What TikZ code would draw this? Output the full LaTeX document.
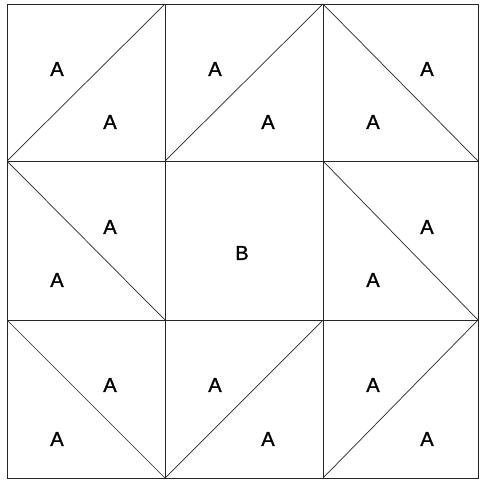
\documentclass[tikz,border=0pt]{standalone}
\usepackage{fontspec}
\setmainfont{Liberation Sans}
\newfontfamily\lblfont{Liberation Sans}[FakeBold=1.3]
\usepackage{tikz}
\usetikzlibrary{positioning}

\tikzset{
  lbl/.style={font=\lblfont\fontsize{20}{20}\selectfont, inner sep=0pt},
  gridline/.style={line width=0.9pt, black!85},
  diag/.style={line width=0.7pt, black!85}
}

\begin{document}
\begin{tikzpicture}[x=1pt,y=-1pt]
\useasboundingbox (0,0) rectangle (479,481);
% corners of the 3x3 blocks
\coordinate (p00) at (7,4);   \coordinate (p10) at (165,4);   \coordinate (p20) at (323,4);   \coordinate (p30) at (478,4);
\coordinate (p01) at (7,161); \coordinate (p11) at (165,161); \coordinate (p21) at (323,161); \coordinate (p31) at (478,161);
\coordinate (p02) at (7,320); \coordinate (p12) at (165,320); \coordinate (p22) at (323,320); \coordinate (p32) at (478,320);
\coordinate (p03) at (7,478); \coordinate (p13) at (165,478); \coordinate (p23) at (323,478); \coordinate (p33) at (478,478);

\draw[gridline] (p00) rectangle (p33);
\draw[gridline] (p10) -- (p13);
\draw[gridline] (p20) -- (p23);
\draw[gridline] (p01) -- (p31);
\draw[gridline] (p02) -- (p32);

% diagonals
\draw[diag] (p01) -- (p10);
\draw[diag] (p11) -- (p20);
\draw[diag] (p20) -- (p31);
\draw[diag] (p01) -- (p12);
\draw[diag] (p21) -- (p32);
\draw[diag] (p02) -- (p13);
\draw[diag] (p13) -- (p22);
\draw[diag] (p23) -- (p32);

% top row
\node[lbl] (a1) at (57,69) {A};
\node[lbl] (a2) at (110,122) {A};
\node[lbl] (a3) at (215,69) {A};
\node[lbl] (a4) at (268,122) {A};
\node[lbl] (a5) at (427,69) {A};
\node[lbl] (a6) at (373,122) {A};
% middle row
\node[lbl] (a7) at (110,227) {A};
\node[lbl] (a8) at (57,280) {A};
\node[lbl] (b1) at (242,253) {B};
\node[lbl] (a9) at (427,227) {A};
\node[lbl] (a10) at (373,280) {A};
% bottom row
\node[lbl] (a11) at (110,385) {A};
\node[lbl] (a12) at (57,439) {A};
\node[lbl] (a13) at (215,385) {A};
\node[lbl] (a14) at (268,439) {A};
\node[lbl] (a15) at (373,385) {A};
\node[lbl] (a16) at (427,439) {A};
\end{tikzpicture}
\end{document}
